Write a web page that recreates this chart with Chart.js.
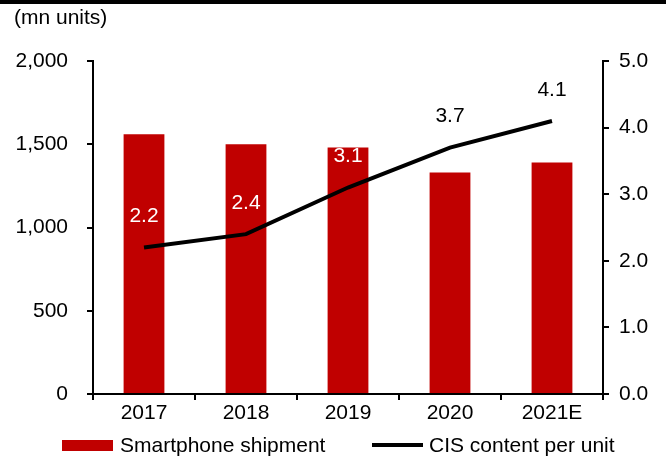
<!DOCTYPE html>
<html>
<head>
<meta charset="utf-8">
<script src="https://cdn.jsdelivr.net/npm/chart.js@4/dist/chart.umd.min.js"></script>
<style>
  html, body { margin: 0; padding: 0; background: #fff; }
  #wrap { position: relative; width: 666px; height: 459px; font-family: "Liberation Sans", Arial, sans-serif; color: #000; }
  #topRule { position: absolute; left: 0; top: 0; width: 666px; height: 4px; background: #000; }
  #unit { position: absolute; left: 14px; top: 5px; font-size: 21px; line-height: 24px; }
  canvas { position: absolute; left: 0; top: 0; }
  .lg { position: absolute; font-size: 21px; line-height: 24px; white-space: nowrap; }
  .swatchBar { position: absolute; background: #C00000; }
  .swatchLine { position: absolute; background: #000; }
</style>
</head>
<body>
<div id="wrap">
  <canvas id="c" width="666" height="459"></canvas>
  <div id="topRule"></div>
  <div id="unit">(mn units)</div>
  <div id="legend"></div>
</div>
<script>
// Categories and series
const years = ['2017', '2018', '2019', '2020', '2021E'];
const shipments = [1560, 1500, 1480, 1330, 1390];      // mn units, left axis
const cisPerUnit = [2.2, 2.4, 3.1, 3.7, 4.1];          // right axis
const cisLabelColors = ['#ffffff', '#ffffff', '#ffffff', '#000000', '#000000'];

const seriesNames = ['Smartphone shipment', 'CIS content per unit'];
const RED = '#C00000';
const FONT = { family: '"Liberation Sans", Arial, sans-serif', size: 21 };

// Writes each CIS value above its point on the line
const pointLabels = {
  id: 'pointLabels',
  afterDatasetsDraw(chart) {
    const idx = chart.data.datasets.findIndex(d => d.type === 'line');
    const meta = chart.getDatasetMeta(idx);
    const ctx = chart.ctx;
    ctx.save();
    ctx.font = `${FONT.size}px ${FONT.family}`;
    ctx.textAlign = 'center';
    ctx.textBaseline = 'middle';
    meta.data.forEach((pt, i) => {
      ctx.fillStyle = cisLabelColors[i];
      ctx.fillText(cisPerUnit[i].toFixed(1), pt.x, pt.y - 31);
    });
    ctx.restore();
  }
};

const axisGrid = { drawOnChartArea: false, color: '#000', lineWidth: 2, tickLength: 6 };
const axisBorder = { color: '#000', width: 2 };

new Chart(document.getElementById('c'), {
  data: {
    labels: years,
    datasets: [
      {
        type: 'line',
        label: seriesNames[1],
        data: cisPerUnit,
        yAxisID: 'y1',
        borderColor: '#000',
        borderWidth: 4,
        pointRadius: 0,
        tension: 0,
        order: 0
      },
      {
        type: 'bar',
        label: seriesNames[0],
        data: shipments,
        yAxisID: 'y',
        backgroundColor: RED,
        categoryPercentage: 1,
        barPercentage: 0.4,
        order: 1
      }
    ]
  },
  options: {
    responsive: false,
    animation: false,
    layout: { padding: { top: 61, bottom: 25, left: 0, right: 0 } },
    plugins: { legend: { display: false }, tooltip: { enabled: false } },
    scales: {
      x: {
        type: 'category',
        offset: true,
        grid: Object.assign({ offset: true }, axisGrid),
        border: axisBorder,
        ticks: { color: '#000', font: FONT, padding: 1, maxRotation: 0 },
        afterFit: s => { s.height = 40; }
      },
      y: {
        position: 'left',
        min: 0, max: 2000,
        grid: axisGrid,
        border: axisBorder,
        ticks: {
          stepSize: 500, color: '#000', font: FONT, padding: 19,
          callback: v => v.toLocaleString('en-US')
        },
        afterFit: s => { s.width = 93; }
      },
      y1: {
        position: 'right',
        min: 0, max: 5,
        grid: axisGrid,
        border: axisBorder,
        ticks: {
          stepSize: 1, color: '#000', font: FONT, padding: 10,
          callback: v => v.toFixed(1)
        },
        afterFit: s => { s.width = 63; }
      }
    }
  },
  plugins: [pointLabels]
});

// Legend below the plot
const legend = document.getElementById('legend');
legend.innerHTML =
  '<div class="swatchBar" style="left:62px;top:440px;width:51px;height:11px;"></div>' +
  '<div class="lg" style="left:120px;top:433px;">' + seriesNames[0] + '</div>' +
  '<div class="swatchLine" style="left:372px;top:443px;width:51px;height:4px;"></div>' +
  '<div class="lg" style="left:429px;top:433px;">' + seriesNames[1] + '</div>';
</script>
</body>
</html>
